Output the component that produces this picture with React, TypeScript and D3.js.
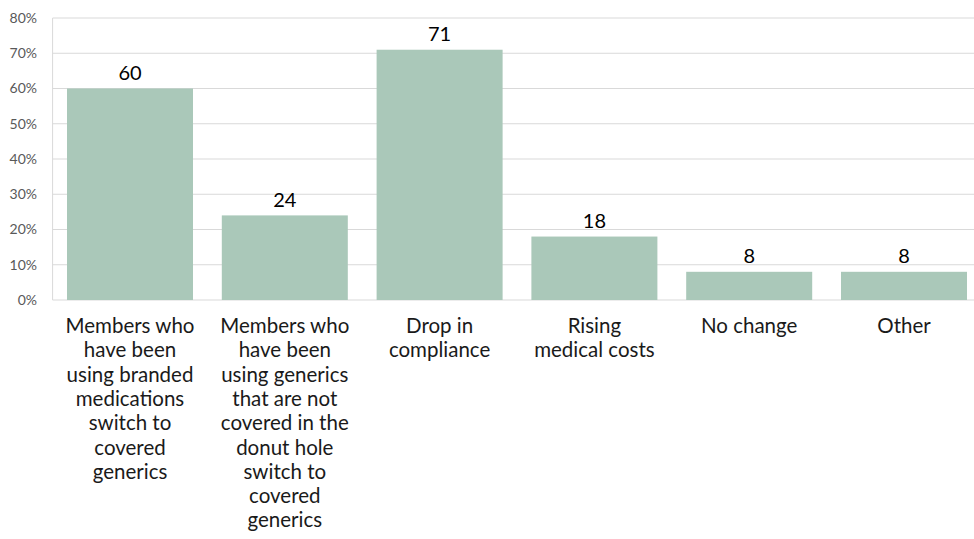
import React, { useEffect, useRef } from "react";
import * as d3 from "d3";

const categories: string[][] = [
  ["Members who", "have been", "using branded", "medications", "switch to", "covered", "generics"],
  ["Members who", "have been", "using generics", "that are not", "covered in the", "donut hole", "switch to", "covered", "generics"],
  ["Drop in", "compliance"],
  ["Rising", "medical costs"],
  ["No change"],
  ["Other"],
];
const values: number[] = [60, 24, 71, 18, 8, 8];
const yTicks: number[] = [0, 10, 20, 30, 40, 50, 60, 70, 80];

const W = 974;
const H = 539;
const FONT = "Lato, 'Noto Sans', sans-serif";

export default function App() {
  const ref = useRef<SVGSVGElement>(null);
  useEffect(() => {
    document.body.style.margin = "0";
    const svg = d3.select(ref.current);
    svg.selectAll("*").remove();
    const left = 52.6, right = 981.4, top = 18, bottom = 300;
    const x = d3.scaleBand<number>().domain(d3.range(values.length)).range([left, right]).paddingInner(0.186).paddingOuter(0.093);
    const y = d3.scaleLinear().domain([0, 80]).range([bottom, top]);

    const g = svg.append("g");
    g.selectAll("line.grid").data(yTicks).enter().append("line")
      .attr("x1", left).attr("x2", right)
      .attr("y1", (d) => y(d)).attr("y2", (d) => y(d))
      .attr("stroke", "#d9d9d9").attr("stroke-width", 1);
    g.append("line").attr("x1", left).attr("x2", left).attr("y1", top).attr("y2", bottom)
      .attr("stroke", "#d9d9d9");
    g.selectAll("text.yt").data(yTicks).enter().append("text")
      .attr("x", 37).attr("y", (d) => y(d)).attr("dy", "0.35em")
      .attr("text-anchor", "end").attr("font-family", FONT).attr("font-size", 14)
      .attr("fill", "#595959").text((d) => d + "%");

    g.selectAll("rect.bar").data(values).enter().append("rect")
      .attr("x", (_, i) => x(i)!).attr("width", x.bandwidth())
      .attr("y", (d) => y(d)).attr("height", (d) => bottom - y(d))
      .attr("fill", "#aac8b9");

    g.selectAll("text.val").data(values).enter().append("text")
      .attr("x", (_, i) => x(i)! + x.bandwidth() / 2).attr("y", (d) => y(d) - 8.5)
      .attr("text-anchor", "middle").attr("font-family", FONT).attr("font-size", 20)
      .attr("fill", "#000").text((d) => d);

    categories.forEach((lines, i) => {
      const t = g.append("text").attr("text-anchor", "middle").attr("font-family", FONT)
        .attr("font-size", 20.5).attr("fill", "#1a1a1a");
      lines.forEach((ln, j) => {
        t.append("tspan").attr("x", x(i)! + x.bandwidth() / 2).attr("y", 333 + j * 24.3).text(ln);
      });
    });
  }, []);
  return <svg ref={ref} width={W} height={H} style={{ display: "block", background: "#fff" }} />;
}
